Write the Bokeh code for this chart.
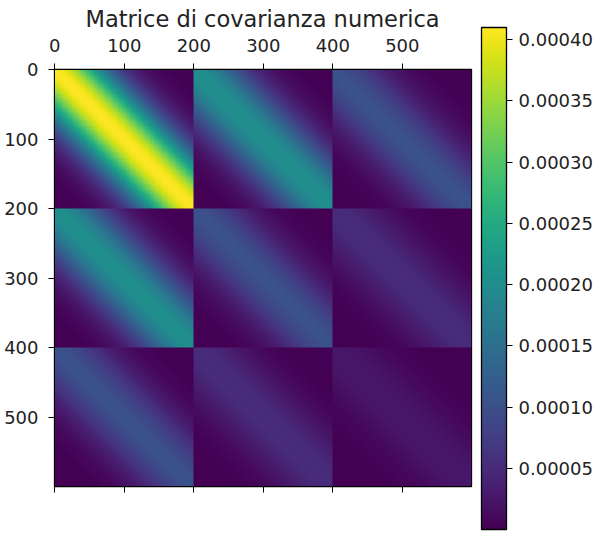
import numpy as np
from bokeh.plotting import figure
from bokeh.models import (ColorBar, FixedTicker, LinearAxis, LinearColorMapper,
                          PrintfTickFormatter, Range1d)
from bokeh.palettes import Viridis256
from bokeh.embed import file_html
from bokeh.resources import INLINE

title_text = "Matrice di covarianza numerica"
axis_ticks = [0, 100, 200, 300, 400, 500]
colorbar_ticks = [0.00005, 0.00010, 0.00015, 0.00020, 0.00025, 0.00030, 0.00035, 0.00040]

block_peaks = [
    [0.000410, 0.000205, 0.000103],
    [0.000205, 0.000103, 0.000052],
    [0.000103, 0.000052, 0.000026],
]
# share of the block's peak, by distance from the diagonal (one entry per 2 cells)
band_profile = [
    1.000, .999, .997, .993, .988, .982, .974, .964, .954, .942,
    .929, .914, .899, .883, .865, .847, .827, .807, .787, .766,
    .744, .722, .699, .676, .653, .630, .607, .583, .560, .537,
    .514, .491, .469, .447, .425, .404, .383, .363, .344, .325,
    .306, .288, .271, .255, .239, .224, .209, .195, .182, .169,
    .157, .146, .135, .125, .116, .107, .098, .090, .083, .076,
    .070, .064, .058, .053, .048, .044, .040, .036, .033, .029,
    .026, .024, .022, .019, .017, .016, .014, .012, .011, .010,
    .009, .008, .007, .006, .0055, .005, .004, .0037, .0032, .0028,
    .0025, .002, .0019, .0017, .0014, .0013, .0011, .001, .0008, .0007,
]

peaks = np.array(block_peaks)
profile = np.array(band_profile)
n = len(profile)
ii, jj = np.indices((3 * n, 3 * n))
matrix = peaks[ii // n, jj // n] * profile[np.abs(ii % n - jj % n)]

mapper = LinearColorMapper(palette=Viridis256, low=0.0, high=0.00041)

font = "DejaVu Sans"
size = "18px"
ink = "#222222"

p = figure(width=596, height=534, output_backend="svg", toolbar_location=None,
           x_range=Range1d(-0.5, 599.5), y_range=Range1d(599.5, -0.5),
           min_border_left=54, min_border_right=125, min_border_top=69, min_border_bottom=48,
           title=title_text)
p.title.align = "left"
p.title.offset = 31
p.title.text_font = font
p.title.text_font_size = "22.5px"
p.title.text_font_style = "normal"
p.title.text_color = ink
p.title.standoff = 6
p.title.vertical_align = "middle"
p.grid.visible = False
p.outline_line_color = "black"
p.outline_line_width = 1.3

p.image(image=[matrix], x=-0.5, y=-0.5, dw=600, dh=600, color_mapper=mapper)

top = LinearAxis()
p.add_layout(top, "above")
for ax in (p.xaxis[0], p.xaxis[1], p.yaxis[0]):
    ax.ticker = FixedTicker(ticks=axis_ticks)
    ax.major_tick_in = 0
    ax.major_tick_out = 6
    ax.minor_tick_line_color = None
    ax.axis_line_color = "black"
    ax.major_tick_line_color = "black"
    ax.major_label_text_font = font
    ax.major_label_text_font_size = size
    ax.major_label_text_color = ink
top.major_label_standoff = 12
p.yaxis[0].major_label_standoff = 10
for ax in p.below:
    ax.major_label_text_color = None

bar = ColorBar(color_mapper=mapper, ticker=FixedTicker(ticks=colorbar_ticks),
               formatter=PrintfTickFormatter(format="%.5f"),
               location=(10, -43), width=25, height=502, padding=0, margin=0,
               major_tick_in=0, major_tick_out=6, major_tick_line_color="black",
               minor_tick_line_color=None, bar_line_color="black", bar_line_width=1.3,
               major_label_text_font=font, major_label_text_font_size=size,
               major_label_text_color=ink, label_standoff=6)
p.add_layout(bar, "right")

open("out.html", "w").write(file_html(p, INLINE))
